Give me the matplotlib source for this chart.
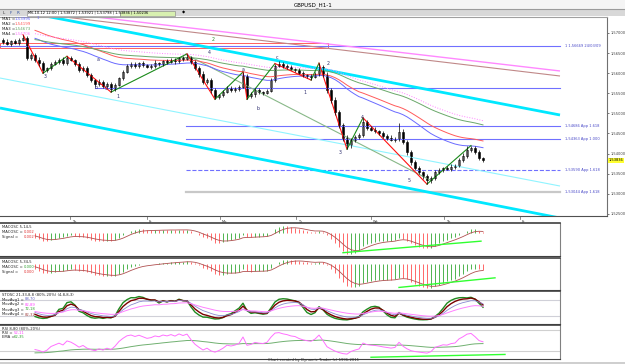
import numpy as np
import pandas as pd
import matplotlib
matplotlib.use("Agg")
import matplotlib.pyplot as plt
import matplotlib.transforms as mtrans
from matplotlib.patches import Rectangle
from matplotlib.lines import Line2D

W, H = 625, 364

# ---- price data (H1 closes) ----
close = [
    1.5678, 1.5673, 1.5680, 1.5675, 1.5683, 1.5688, 1.5638, 1.5645, 1.5633, 1.5625,
    1.5608, 1.5613, 1.5623, 1.5628, 1.5633, 1.5625, 1.5638, 1.5633, 1.5623, 1.5608,
    1.5613, 1.5596, 1.5583, 1.5573, 1.5578, 1.5568, 1.5573, 1.5561, 1.5571, 1.5588,
    1.5603, 1.5618, 1.5623, 1.5618, 1.5625, 1.5620, 1.5615, 1.5618, 1.5625, 1.5623,
    1.5630, 1.5628, 1.5633, 1.5630, 1.5638, 1.5635, 1.5640, 1.5628, 1.5613, 1.5598,
    1.5578, 1.5583, 1.5558, 1.5541, 1.5546, 1.5553, 1.5563, 1.5558, 1.5561, 1.5566,
    1.5593, 1.5543, 1.5548, 1.5558, 1.5553, 1.5551, 1.5556, 1.5583, 1.5618, 1.5623,
    1.5618, 1.5615, 1.5610, 1.5608, 1.5601, 1.5596, 1.5593, 1.5591, 1.5598, 1.5615,
    1.5596, 1.5558, 1.5534, 1.5503, 1.5471, 1.5439, 1.5421, 1.5434, 1.5441, 1.5446,
    1.5479, 1.5464, 1.5459, 1.5456, 1.5451, 1.5444, 1.5439, 1.5434, 1.5436, 1.5454,
    1.5429, 1.5404, 1.5379, 1.5364, 1.5354, 1.5344, 1.5334, 1.5339, 1.5354, 1.5359,
    1.5364, 1.5362, 1.5367, 1.5369, 1.5384, 1.5394, 1.5409, 1.5414, 1.5404, 1.5389,
    1.53836,
]
first_open = 1.5683
# wick lengths in pips above / below the body
wick_up = [
    4, 6, 3, 5, 4, 8, 5, 6, 4, 7,
    5, 3, 6, 4, 5, 7, 4, 6, 3, 5,
    4, 6, 5, 3, 7, 4, 5, 6, 4, 3,
    5, 6, 4, 5, 3, 6, 4, 5, 7, 3,
    4, 6, 5, 4, 3, 6, 8, 4, 5, 6,
    7, 4, 5, 6, 3, 4, 5, 6, 4, 5,
    10, 5, 6, 4, 5, 3, 4, 5, 6, 8,
    5, 4, 6, 3, 5, 4, 3, 5, 4, 10,
    5, 6, 4, 7, 5, 6, 8, 5, 4, 6,
    10, 5, 4, 6, 3, 5, 4, 6, 5, 22,
    6, 4, 5, 6, 4, 3, 5, 6, 4, 5,
    3, 4, 6, 5, 6, 8, 10, 6, 5, 4,
    3,
]
wick_dn = [
    5, 4, 6, 3, 5, 4, 6, 5, 4, 6,
    8, 4, 5, 3, 6, 4, 5, 3, 4, 6,
    5, 6, 4, 7, 5, 6, 4, 8, 5, 4,
    6, 3, 5, 4, 6, 5, 3, 4, 5, 6,
    4, 5, 3, 6, 4, 5, 3, 5, 6, 7,
    6, 5, 8, 6, 4, 5, 3, 6, 4, 5,
    4, 8, 5, 6, 4, 5, 3, 4, 5, 3,
    4, 5, 3, 6, 4, 5, 6, 8, 4, 5,
    6, 7, 8, 6, 7, 8, 10, 6, 5, 4,
    5, 6, 4, 5, 6, 4, 5, 3, 4, 5,
    6, 7, 8, 6, 5, 7, 10, 6, 5, 4,
    5, 4, 6, 5, 3, 4, 5, 4, 6, 5,
    4,
]

# moving averages
ma_names = ["MA1", "MA2", "MA3", "MA4"]
ma_text = ["1,53995", "1,54199", "1,54673", "1,54706"]
ma_periods = [34, 44, 72, 80]
ma_seeds = [1.5690, 1.5710, 1.5685, 1.5700]
ma_colors = ["#6a6aff", "#ff5a5a", "#6aa86a", "#ff80ff"]
ma_styles = ["-", "-", "-", ":"]

# zigzag swing bars
zz_bars = [5, 10, 16, 27, 46, 53, 60, 61, 68, 77, 79, 86, 90, 106, 117]
zz_kind = ["H", "L", "H", "L", "H", "L", "H", "L", "H", "L", "H", "L", "H", "L", "H"]

# wave labels (bar, price, text)
wave_bars = [10.5, 23.75, 23.25, 25.75, 28.75, 52.5, 51.5, 60, 63.75, 68.5, 75.5, 81.25, 84.25, 89.75, 101.5]
wave_prices = [1.5593, 1.5633, 1.5564, 1.5563, 1.5543, 1.5685, 1.5652, 1.5610, 1.5513,
               1.5640, 1.5551, 1.5625, 1.5402, 1.5491, 1.5332]
wave_texts = ["3", "a", "b", "5", "1", "2", "4", "a", "b", "c", "1", "2", "3", "4", "5"]

# trend lines: (bar0, price0, bar1, price1)
tl_start_bar = [9.25, -0.75, -0.75, 14, 14, 45.5]
tl_start_price = [1.57448, 1.55134, 1.55880, 1.57505, 1.57415, 1.56478]
tl_end_bar = [139.25, 139.25, 139.25, 139.25, 139.25, 106.75]
tl_end_price = [1.54960, 1.52397, 1.53193, 1.56055, 1.55930, 1.53343]
tl_colors = ["#00e8ff", "#00e8ff", "#90f4ff", "#ff88ff", "#c08888", "#88b888"]
tl_widths = [2.0, 2.0, 0.8, 1.0, 0.8, 0.8]

# horizontal levels
lvl_prices = [1.56669, 1.55632, 1.54686, 1.54363, 1.53590, 1.53044]
lvl_start = [-0.75, 23, 45.75, 45.75, 45.75, 45.75]
lvl_labels = ["1 1,56669 24/03/09", "", "1,54686 App 1.618", "1,54363 App 1.000",
              "1,53590 App 1.618", "1,53044 App 1.618"]
lvl_colors = ["#7070ff", "#7070ff", "#7070ff", "#7070ff", "#7070ff", "#c8c8c8"]
lvl_styles = ["-", "-", "-", "-", "--", "-"]
lvl_widths = [0.8, 0.8, 0.8, 0.8, 0.8, 1.6]
box_bars = [-0.75, 81.25]
box_prices = [1.5663, 1.5675]

price_ticks = [1.525, 1.530, 1.535, 1.540, 1.545, 1.550, 1.555, 1.560, 1.565, 1.570]
day_bars = [16.75, 36, 54.25, 73.25, 92, 110.25, 129.25]
day_labels = ["Th", "Fr", "Mo", "Tu", "We", "Th", "Fr"]

# ---- derived OHLC and indicators ----
close = np.array(close)
n = len(close)
bars = np.arange(n)
opn = np.r_[first_open, close[:-1]]
high = np.maximum(opn, close) + np.array(wick_up) * 1e-4
low = np.minimum(opn, close) - np.array(wick_dn) * 1e-4
start = 8


def ema_seeded(vals, period, seed, first):
    out = np.full(len(vals), np.nan)
    a = 2.0 / (period + 1)
    m = seed
    for i in range(first, len(vals)):
        m = m + a * (vals[i] - m)
        out[i] = m
    return out


cs = pd.Series(close)


def macd(fast, slow, sig):
    m = cs.ewm(span=fast, adjust=False).mean() - cs.ewm(span=slow, adjust=False).mean()
    s = m.ewm(span=sig, adjust=False).mean()
    return m.values, s.values


hh = pd.Series(high).rolling(8, min_periods=1).max()
ll = pd.Series(low).rolling(8, min_periods=1).min()
k_raw = (cs - ll) / (hh - ll) * 100
stoch_lines = [k_raw.ewm(span=3, adjust=False).mean(), k_raw.ewm(span=5, adjust=False).mean(),
               k_raw.ewm(span=9, adjust=False).mean(), k_raw.ewm(span=21, adjust=False).mean()]
stoch_colors = ["#1f8a1f", "#7a0000", "#8a8ad0", "#ff80ff"]
stoch_widths = [1.0, 1.0, 0.6, 0.7]

delta = cs.diff().fillna(0)
gain = delta.clip(lower=0).ewm(alpha=1 / 8, adjust=False).mean()
loss = (-delta.clip(upper=0)).ewm(alpha=1 / 8, adjust=False).mean()
rsi = 100 - 100 / (1 + gain / loss.replace(0, 1e-9))
rsi_ema = rsi.ewm(span=34, adjust=False).mean()

# ---- figure ----
fig = plt.figure(figsize=(W / 100, H / 100), dpi=100)
fig.patch.set_facecolor("white")
FS = 2.9


def axes_px(x0, y0, x1, y1):
    return fig.add_axes([x0 / W, 1 - y1 / H, (x1 - x0) / W, (y1 - y0) / H])


def ftext(x, y, s, **kw):
    kw.setdefault("fontsize", FS)
    kw.setdefault("va", "center")
    fig.text(x / W, 1 - y / H, s, **kw)


def frect(x0, y0, x1, y1, **kw):
    fig.patches.append(Rectangle((x0 / W, 1 - y1 / H), (x1 - x0) / W, (y1 - y0) / H,
                                 transform=fig.transFigure, **kw))


def fline(x0, y0, x1, y1, **kw):
    fig.add_artist(Line2D([x0 / W, x1 / W], [1 - y0 / H, 1 - y1 / H], transform=fig.transFigure, **kw))


# header
frect(0, 0, 625, 9, color="#f4f4f4", lw=0)
fline(0, 9, 625, 9, color="#9a9a9a", lw=0.8)
frect(0, 10, 625, 16, color="#d8d8d8", lw=0)
ftext(313, 4.8, "GBPUSD_H1-1", ha="center", fontsize=4.0)
ftext(3, 13, "L", color="#303030", fontsize=3.0)
ftext(10, 13, "F", color="#3050a0", fontsize=3.0)
ftext(17, 13, "R", color="#3050a0", fontsize=3.0)
frect(27, 10.5, 120, 15.5, facecolor="white", edgecolor="#808080", lw=0.4)
frect(120, 10.5, 175, 15.5, facecolor="#d8f0b0", edgecolor="#808080", lw=0.4)
ftext(28, 13, "M6-10-12 12:00 | 1,53872 | 1,53921 | 1,53798 | 1,53836 | 1,50236", fontsize=2.6)
ftext(182, 13, "\u25c6", fontsize=3.0)

# main price chart
ax = axes_px(0, 17, 607, 216)
ax.set_xlim(-0.75, 151)
ax.set_ylim(1.52447, 1.57398)
ax.spines["left"].set_visible(False)
ax.spines["top"].set_color("#a0a0a0")
ax.spines["bottom"].set_color("#505050")
ax.spines["right"].set_color("#707070")
for sp in ax.spines.values():
    sp.set_linewidth(0.8)
ax.set_xticks([])
ax.yaxis.tick_right()
ax.set_yticks(price_ticks)
ax.set_yticklabels([f"{p:.5f}".replace(".", ",") for p in price_ticks])
ax.tick_params(axis="y", labelsize=2.6, length=1.5, pad=0.8, width=0.5, colors="#404040")

ax.add_patch(Rectangle((box_bars[0], box_prices[0]), box_bars[1] - box_bars[0],
                       box_prices[1] - box_prices[0], fill=False, edgecolor="#ff6060", lw=0.7))
for p, b0, lab, c, ls, lw in zip(lvl_prices, lvl_start, lvl_labels, lvl_colors, lvl_styles, lvl_widths):
    ax.plot([b0, 139.25], [p, p], color=c, ls=ls, lw=lw)
    if lab:
        ax.text(140.5, p, lab, fontsize=2.6, color="#4848c8", va="center")

for b0, p0, b1, p1, c, lw in zip(tl_start_bar, tl_start_price, tl_end_bar, tl_end_price, tl_colors, tl_widths):
    ax.plot([b0, b1], [p0, p1], color=c, lw=lw, solid_capstyle="butt")

ma_vals = []
for per, seed, c, ls in zip(ma_periods, ma_seeds, ma_colors, ma_styles):
    m = ema_seeded(close, per, seed, start)
    ma_vals.append(m)
    ax.plot(bars, m, color=c, ls=ls, lw=0.7)

zz_price = [high[b] if k == "H" else low[b] for b, k in zip(zz_bars, zz_kind)]
for i in range(len(zz_bars) - 1):
    col = "#ff1010" if zz_kind[i] == "H" else "#1a8a1a"
    ax.plot([zz_bars[i], zz_bars[i + 1]], [zz_price[i], zz_price[i + 1]], color=col, lw=0.8)

ax.vlines(bars, low, high, color="black", lw=0.5)
up = close >= opn
body_h = np.abs(close - opn)
body_h = np.maximum(body_h, 0.00004)
ax.bar(bars[up], body_h[up], bottom=opn[up], width=0.55, facecolor="white", edgecolor="black", lw=0.4)
ax.bar(bars[~up], body_h[~up], bottom=close[~up], width=0.55, facecolor="black", edgecolor="black", lw=0.4)

for b, p, t in zip(wave_bars, wave_prices, wave_texts):
    col = "#2a8a2a" if (t == "2" and p > 1.568) else "#303070"
    ax.text(b, p, t, fontsize=3.4, color=col, ha="center", va="center")

blend = mtrans.blended_transform_factory(ax.transAxes, ax.transData)
ax.text(1.003, close[-1], f"{close[-1]:.5f}".replace(".", ","), transform=blend, fontsize=2.6,
        va="center", ha="left", bbox=dict(boxstyle="square,pad=0.12", fc="#ffff30", ec="none"))

xblend = mtrans.blended_transform_factory(ax.transData, ax.transAxes)
for b, lab in zip(day_bars, day_labels):
    ax.plot([b, b], [0, -0.015], color="#606060", lw=0.5, transform=xblend, clip_on=False)
    ax.text(b + 0.4, -0.018, lab, fontsize=2.6, va="top", transform=xblend, color="#303030")

# MA legend
for k, (nm, val, c) in enumerate(zip(ma_names, ma_text, ma_colors)):
    yy = 19 + 5 * k
    ftext(2, yy, nm + " =", color="#202020")
    ftext(15, yy, val, color=c)
ftext(37, 18, "1", color="#6a6aff", fontsize=2.8)


def sub_axes(y0, y1, ylim):
    a = axes_px(0, y0, 560, y1)
    a.set_xlim(-0.75, 139.25)
    a.set_ylim(*ylim)
    a.set_xticks([])
    a.set_yticks([])
    a.spines["left"].set_visible(False)
    a.spines["top"].set_color("#404040")
    a.spines["top"].set_linewidth(1.2)
    a.spines["bottom"].set_color("#404040")
    a.spines["bottom"].set_linewidth(0.8)
    a.spines["right"].set_color("#808080")
    a.spines["right"].set_linewidth(0.8)
    return a


# MACD panels
macd_specs = [(5, 14, 5, 223, 256, 10 / 23, "MACOSC 5,14,5", ["0,002", "0,002"], ["#e03030", "#e03030"]),
              (5, 34, 5, 258, 290, 6 / 26, "MACOSC 5,34,5", ["0,000", "0,000"], ["#30a030", "#e03030"])]
for f, sl, sg, y0, y1, ratio, title, vals, vcols in macd_specs:
    m, s = macd(f, sl, sg)
    lo = np.nanmin(m[start:]) * 1.08
    hi = max(-lo * ratio, np.nanmax(m[start:]) * 1.1)
    a = sub_axes(y0, y1, (lo, hi))
    cols = ["#20a020" if m[i] >= m[i - 1] else "#ff4040" for i in range(1, n)]
    a.vlines(bars[start:], 0, m[start:], colors=cols[start - 1:], lw=0.55)
    a.plot(bars[start:], s[start:], color="#b05050", lw=0.6)
    ftext(2, y0 + 4, title, color="#202020", fontsize=2.7)
    ftext(2, y0 + 9, "MACOSC =", color="#202020", fontsize=2.7)
    ftext(24, y0 + 9, vals[0], color=vcols[0], fontsize=2.7)
    ftext(2, y0 + 14, "Signal =", color="#202020", fontsize=2.7)
    ftext(24, y0 + 14, vals[1], color=vcols[1], fontsize=2.7)

# green divergence lines in MACD panels (bar0, frac0) -> (bar1, frac1) in axes fraction of y
div_lines = [(85, 0.10, 119.5, 0.45, 223, 256), (99, 0.08, 123, 0.38, 258, 290)]
for b0, f0, b1, f1, y0, y1 in div_lines:
    fig.add_artist(Line2D([(3 + 4 * b0) / W, (3 + 4 * b1) / W],
                          [1 - (y1 - f0 * (y1 - y0)) / H, 1 - (y1 - f1 * (y1 - y0)) / H],
                          transform=fig.transFigure, color="#30ff30", lw=1.0))

# stochastic panel
a = sub_axes(291, 324, (-10, 112))
for lev in [20, 80]:
    a.axhline(lev, color="#d0d0d8", lw=0.8)
for sl, c, lw in zip(stoch_lines, stoch_colors, stoch_widths):
    a.plot(bars[start:], sl.values[start:], color=c, lw=lw)
ftext(2, 294.5, "STOSC 21,33,8,8 (80%-20%) (4,8,8,3)", color="#202020", fontsize=2.7)
st_vals = ["88,70", "82,89", "72,18", "82,32"]
st_cols = ["#6060c0", "#ff40ff", "#30a030", "#a04040"]
for k, (v, c) in enumerate(zip(st_vals, st_cols)):
    ftext(2, 299.5 + 5 * k, f"MovAvg{k + 1} =", color="#202020", fontsize=2.7)
    ftext(25, 299.5 + 5 * k, v, color=c, fontsize=2.7)

# RSI panel
a = sub_axes(325, 359, (-3, 94))
for lev in [20, 80]:
    a.axhline(lev, color="#d0d0d0", lw=0.8)
a.plot(bars[start:], rsi_ema.values[start:], color="#70b070", lw=0.7)
a.plot(bars[start:], rsi.values[start:], color="#ff70ff", lw=0.7)
a.plot([92, 125.5], [2, 10], color="#30ff30", lw=1.0)
ftext(2, 328.5, "RSI 8,80 (80%-20%)", color="#202020", fontsize=2.7)
ftext(2, 333, "RSI =", color="#202020", fontsize=2.7)
ftext(14, 333, "52,11", color="#ff40ff", fontsize=2.7)
ftext(2, 337.5, "EMA =", color="#202020", fontsize=2.7)
ftext(14, 337.5, "62,35", color="#30a030", fontsize=2.7)

# footer
frect(0, 361.5, 625, 364, color="#cfcfcf", lw=0)
ftext(313, 360, "Chart created by Dynamic Trader (c) 1996-2011", ha="center", fontsize=2.7, color="#303030")

fig.savefig("out.png", dpi=100)
